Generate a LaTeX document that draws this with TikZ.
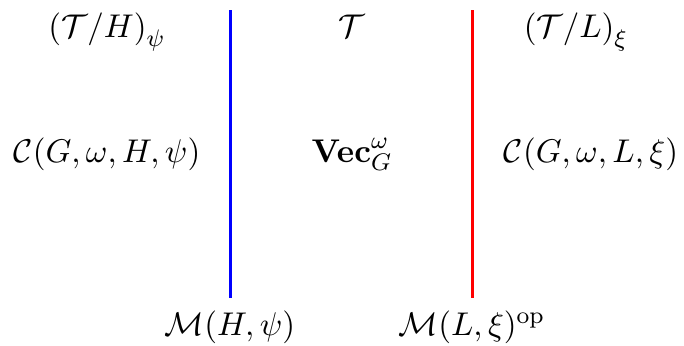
\documentclass[tikz,border=0pt]{standalone}
\usepackage{amsmath,amssymb}
\begin{document}
\begin{tikzpicture}[x=0.3333pt,y=-0.3333pt,
  lbl/.style={inner sep=0pt,anchor=base,font=\fontsize{11.3pt}{13pt}\selectfont},
  wall/.style={line width=1pt}]
\useasboundingbox (0,0) rectangle (684,345);
\coordinate (b1) at (230,10);
\coordinate (b2) at (230,298);
\coordinate (r1) at (472,10);
\coordinate (r2) at (472,298);
\draw[wall,blue] (b1) -- (b2);
\draw[wall,red] (r1) -- (r2);
\node[lbl] (qh) at (107,37) {$\left(\mathcal{T}/H\right)_\psi$};
\node[lbl] (t) at (352,37) {$\mathcal{T}$};
\node[lbl] (ql) at (576,37) {$\left(\mathcal{T}/L\right)_\xi$};
\node[lbl] (ch) at (107,162) {$\mathcal{C}(G,\omega,H,\psi)$};
\node[lbl] (vec) at (352,162) {$\mathbf{Vec}_G^\omega$};
\node[lbl] (cl) at (591,162) {$\mathcal{C}(G,\omega,L,\xi)$};
\node[lbl] (mh) at (230,335) {$\mathcal{M}(H,\psi)$};
\node[lbl] (ml) at (472,335) {$\mathcal{M}(L,\xi)^{\mathrm{op}}$};
\end{tikzpicture}
\end{document}
